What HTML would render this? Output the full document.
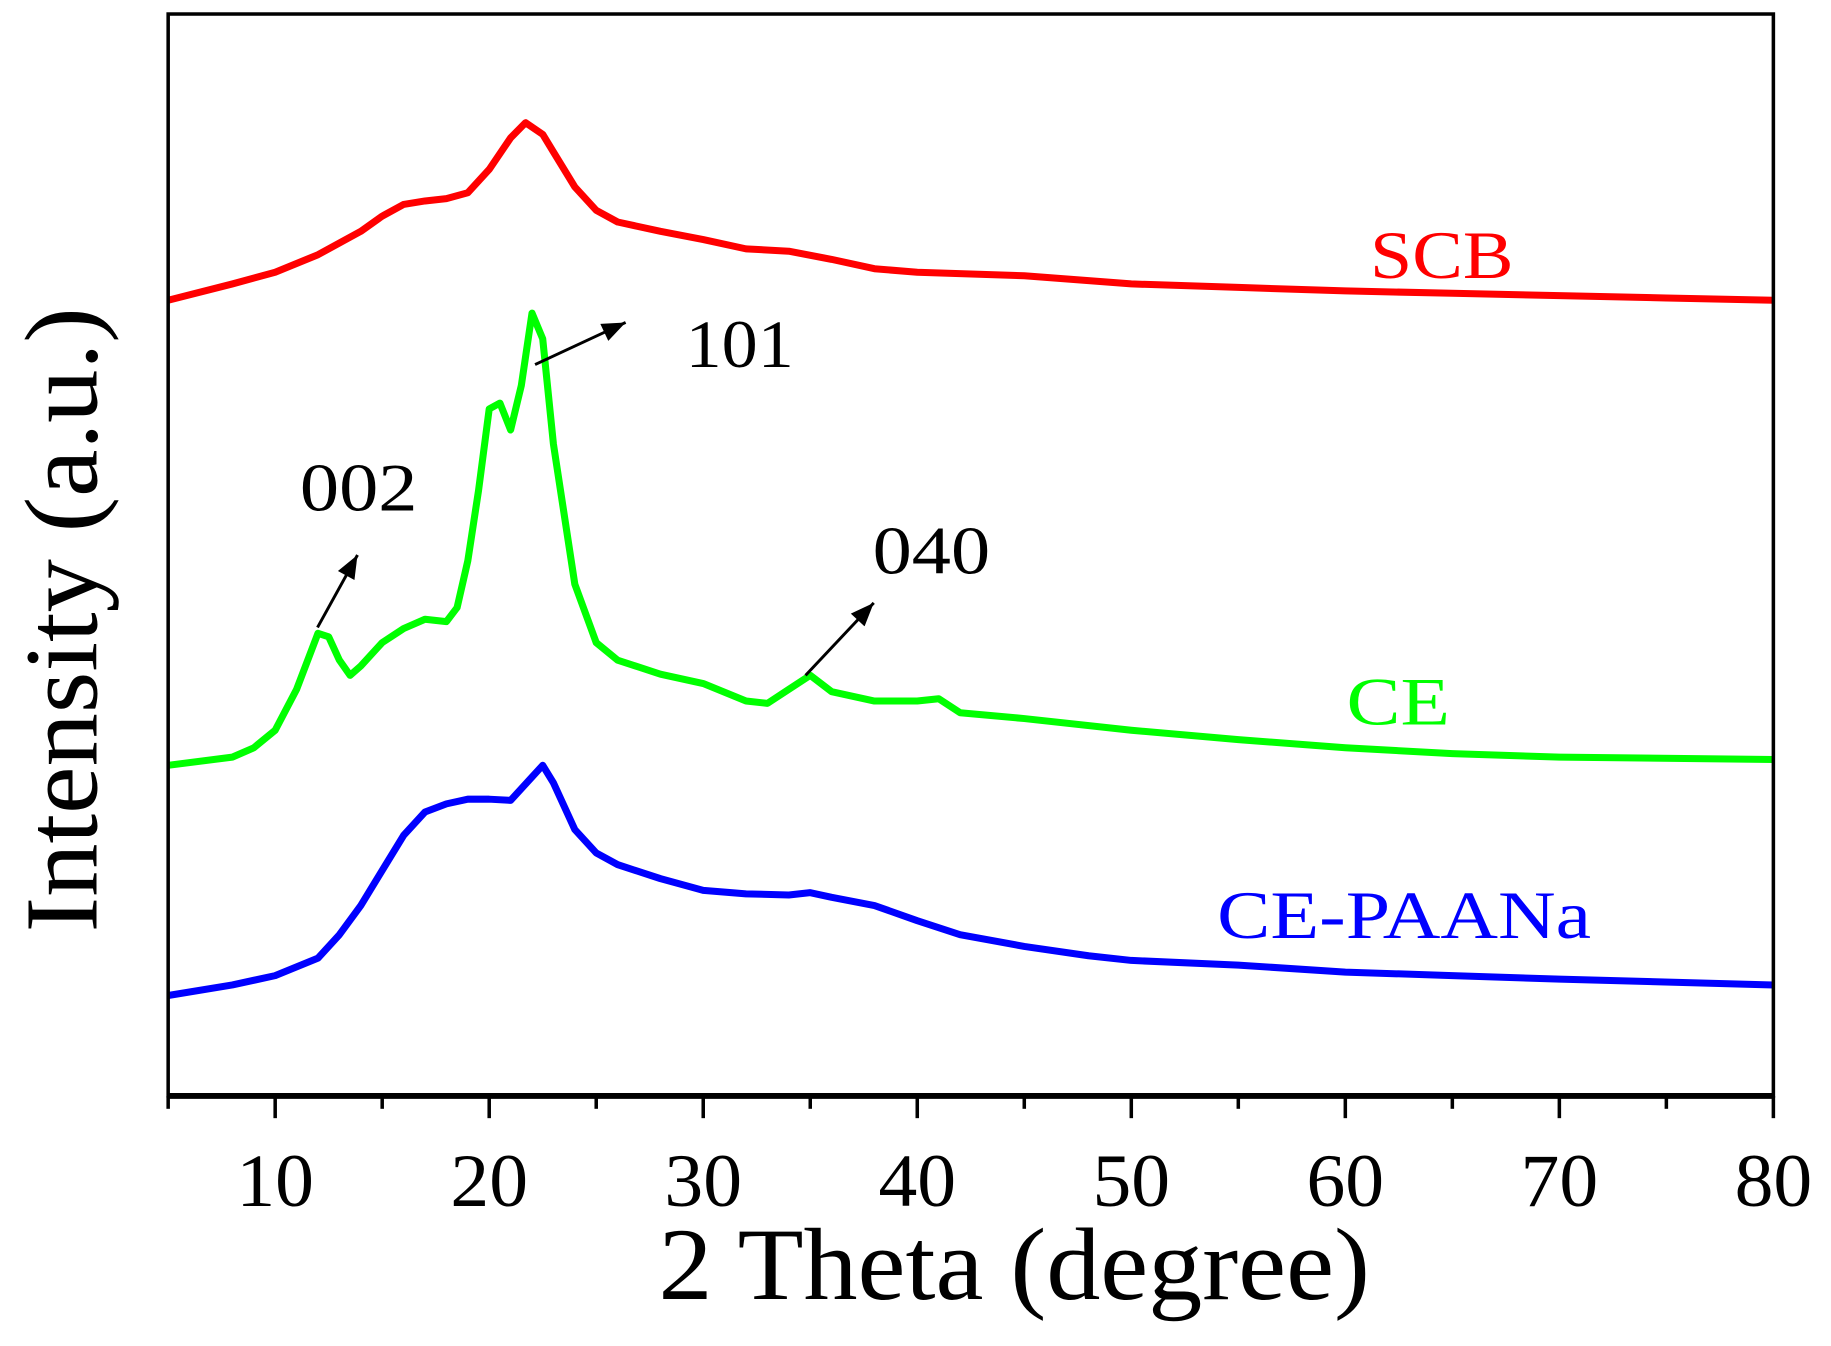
<!DOCTYPE html>
<html><head><meta charset="utf-8"><style>
html,body{margin:0;padding:0;background:#fff;}
svg{display:block;}
text{font-family:"Liberation Serif",serif;}
</style></head><body>
<svg id="chart" width="1831" height="1346" viewBox="0 0 1557 1152" preserveAspectRatio="none" xmlns="http://www.w3.org/2000/svg">
<defs>
<marker id="ah2" viewBox="0 0 10 8" markerWidth="22" markerHeight="16" refX="10" refY="4" orient="auto" markerUnits="userSpaceOnUse"><path d="M0,0 L10,4 L0,8 z" fill="#000"/></marker></defs>
<g id="series"></g>
<g id="axes"></g>
</svg>
<script>
const xTicks=[10,20,30,40,50,60,70,80];
const minorTicks=[5,15,25,35,45,55,65,75];
const scbX=[5,8,10,12,14,15,16,17,18,19,20,21,21.7,22.5,23,24,25,26,28,30,32,34,36,38,40,45,50,55,60,65,70,75,80];
const scbY=[681,695,705,720,740,753,763,766,768,773,793,820,833,823,808,778,758,748,740,733,725,723,716,708,705,702,695,692,689,687,685,683,681];
const ceX=[5,8,9,10,11,12,12.5,13,13.5,14,15,16,17,18,18.5,19,19.5,20,20.5,21,21.5,22,22.5,23,24,25,26,28,30,32,33,34,35,36,38,40,41,42,45,50,55,60,65,70,80];
const ceY=[283,290,298,313,348,396,393,373,360,368,388,400,408,406,418,458,518,588,593,570,608,670,648,558,438,388,373,361,353,338,336,348,360,346,338,338,340,328,323,313,305,298,293,290,288];
const paX=[5,8,10,12,13,14,15,16,17,18,19,20,21,22,22.5,23,24,25,26,28,30,32,34,35,36,38,40,42,45,48,50,55,60,65,70,80];
const paY=[86,95,103,118,138,163,193,223,243,250,254,254,253,273,283,268,228,208,198,186,176,173,172,174,170,163,150,138,128,120,116,112,106,103,100,95];
const NS="http://www.w3.org/2000/svg";
const X0=143,X1=1508,YB=938,YT=12;
const sx=v=>X0+(v-5)*(X1-X0)/75;
const sy=v=>YB-v;
const S=document.getElementById('series'),A=document.getElementById('axes');
function mk(tag,attrs,parent){const e=document.createElementNS(NS,tag);for(const k in attrs)e.setAttribute(k,attrs[k]);parent.appendChild(e);return e;}
function line(xs,ys,color,name){
  const d=xs.map((x,i)=>(i?'L':'M')+sx(x).toFixed(1)+','+sy(ys[i]).toFixed(1)).join(' ');
  const p=mk('path',{d:d,fill:'none',stroke:color,'stroke-width':6,'stroke-linejoin':'round'},S);
  
  
}
line(scbX,scbY,'#ff0000','scb-line');
line(ceX,ceY,'#00ff00','ce-line');
line(paX,paY,'#0000ff','ce-paana-line');
const fr=mk('rect',{x:X0,y:YT,width:X1-X0,height:YB-YT,fill:'none',stroke:'#000','stroke-width':3},A);


const xa=mk('line',{x1:X0,y1:YB,x2:X1,y2:YB,stroke:'#000','stroke-width':5},A);


xTicks.forEach(t=>{
  const l=mk('line',{x1:sx(t),y1:YB,x2:sx(t),y2:957,stroke:'#000','stroke-width':3},A);
  
  
  const tx=mk('text',{x:sx(t),y:1032,'font-size':64,'text-anchor':'middle',textLength:66,lengthAdjust:'spacingAndGlyphs'},A);
  tx.textContent=t;
  
  
});
minorTicks.forEach(t=>{
  const l=mk('line',{x1:sx(t),y1:YB,x2:sx(t),y2:949,stroke:'#000','stroke-width':3},A);
  
  
});
</script>
<script>
(function(){
const NS="http://www.w3.org/2000/svg";const A=document.getElementById('axes');
function t(x,y,s,txt,len,fill,name,extra){const e=document.createElementNS(NS,'text');e.setAttribute('x',x);e.setAttribute('y',y);e.setAttribute('font-size',s);e.setAttribute('fill',fill);e.setAttribute('textLength',len);e.setAttribute('lengthAdjust','spacingAndGlyphs');if(extra)for(const k in extra)e.setAttribute(k,extra[k]);e.textContent=txt;


A.appendChild(e);}
t(560,1112,88,'2 Theta (degree)',605,'#000','x-axis-title');
t(0,0,88,'Intensity (a.u.)',535,'#000','y-axis-title',{transform:'translate(82,798) rotate(-90)'});
t(1165,238,58,'SCB',122,'#ff0000','scb-label');
t(1145,620,58,'CE',88,'#00ff00','ce-label');
t(1035,803,58,'CE-PAANa',318,'#0000ff','ce-paana-label');
t(583,314,58,'101',92,'#000','peak-101-label');
t(255,437,58,'002',100,'#000','peak-002-label');
t(742,491,58,'040',100,'#000','peak-040-label');
[[270,537,304,475,'arrow-002'],[455,312,532,276,'arrow-101'],[685,578,743,516,'arrow-040']].forEach(a=>{
 const l=document.createElementNS(NS,'line');l.setAttribute('x1',a[0]);l.setAttribute('y1',a[1]);l.setAttribute('x2',a[2]);l.setAttribute('y2',a[3]);l.setAttribute('stroke','#000');l.setAttribute('stroke-width',2.5);l.setAttribute('marker-end','url(#ah2)');
 
 
 A.appendChild(l);});
})();
</script>
</body></html>
